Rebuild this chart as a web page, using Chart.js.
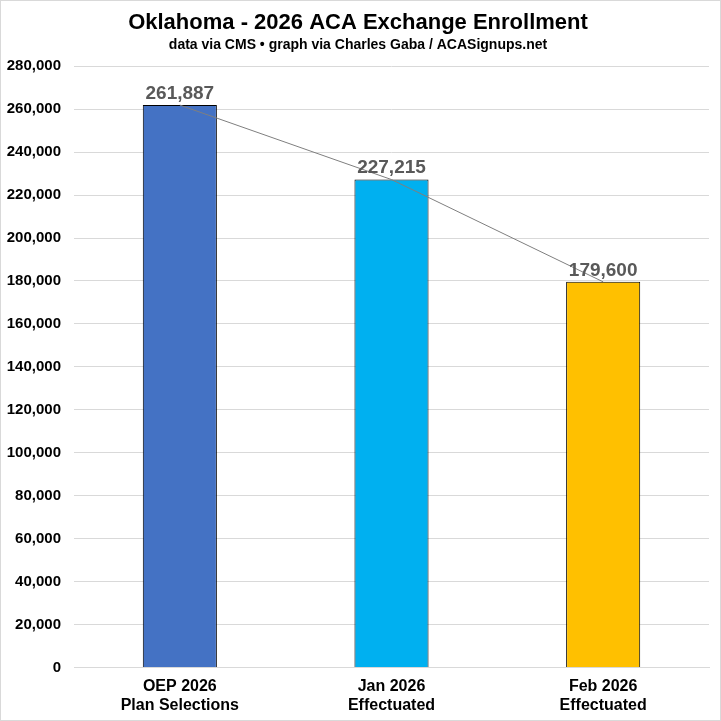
<!DOCTYPE html>
<html>
<head>
<meta charset="utf-8">
<script src="https://cdn.jsdelivr.net/npm/chart.js@4.4.1/dist/chart.umd.min.js"></script>
<style>
  html, body { margin: 0; padding: 0; background: #fff; }
  .wrap { width: 719px; height: 719px; border: 1px solid #d9d9d9; position: relative; }
  canvas { display: block; }
</style>
</head>
<body>
<div class="wrap"><canvas id="c" width="719" height="719"></canvas></div>
<script>
// ---------- data ----------
const categories = [['OEP 2026', 'Plan Selections'], ['Jan 2026', 'Effectuated'], ['Feb 2026', 'Effectuated']];
const enrollment = [261887, 227215, 179600];
const barColors = ['#4472C4', '#00B0F0', '#FFC000'];
const yTicks = { min: 0, max: 280000, step: 20000 };

const FONT = '"Liberation Sans", Arial, sans-serif';
const nf = new Intl.NumberFormat('en-US');

// ป้ายตัวเลขเหนือแท่ง
const valueLabels = {
  id: 'valueLabels',
  afterDatasetsDraw(chart) {
    const ctx = chart.ctx;
    const meta = chart.getDatasetMeta(1);
    ctx.save();
    ctx.font = 'bold 19px ' + FONT;
    ctx.fillStyle = '#595959';
    ctx.textAlign = 'center';
    ctx.textBaseline = 'bottom';
    meta.data.forEach((bar, i) => {
      ctx.fillText(nf.format(enrollment[i]), bar.x, bar.y - 2);
    });
    ctx.restore();
  }
};

new Chart(document.getElementById('c'), {
  data: {
    labels: categories,
    datasets: [
      {
        type: 'line', data: enrollment, borderColor: '#7f7f7f', borderWidth: 1,
        pointRadius: 0, fill: false, tension: 0, order: 0,
      },
      {
        type: 'bar', data: enrollment, backgroundColor: barColors,
        borderColor: '#000', borderWidth: 1,
        categoryPercentage: 0.35, barPercentage: 1, order: 1,
      },
    ],
  },
  options: {
    responsive: false, animation: false,
    devicePixelRatio: 1,
    layout: { padding: { top: 0, right: 11, left: 6, bottom: -4 } },
    plugins: {
      legend: { display: false },
      tooltip: { enabled: false },
      title: {
        display: true, text: 'Oklahoma - 2026 ACA Exchange Enrollment',
        color: '#000', font: { family: FONT, size: 22, weight: 'bold' },
        padding: { top: 9, bottom: 0 },
      },
      subtitle: {
        display: true, text: 'data via CMS \u2022 graph via Charles Gaba / ACASignups.net',
        color: '#000', font: { family: FONT, size: 14, weight: 'bold' },
        padding: { top: 0, bottom: 13 },
      },
    },
    scales: {
      x: {
        grid: { display: false, drawTicks: false },
        border: { color: '#d9d9d9' },
        ticks: { color: '#000', font: { family: FONT, size: 16, weight: 'bold' }, padding: 9, maxRotation: 0 },
      },
      y: {
        min: yTicks.min, max: yTicks.max,
        grid: { color: '#d9d9d9', drawTicks: false },
        border: { display: false },
        afterFit: s => { s.width = 67; },   // ล็อกความกว้างแกน y ให้ขอบซ้ายของกราฟตรงกับต้นฉบับ
        ticks: {
          stepSize: yTicks.step, color: '#000', padding: 13,
          font: { family: FONT, size: 15, weight: 'bold' },
          callback: v => nf.format(v),
        },
      },
    },
  },
  plugins: [valueLabels],
});
</script>
</body>
</html>
